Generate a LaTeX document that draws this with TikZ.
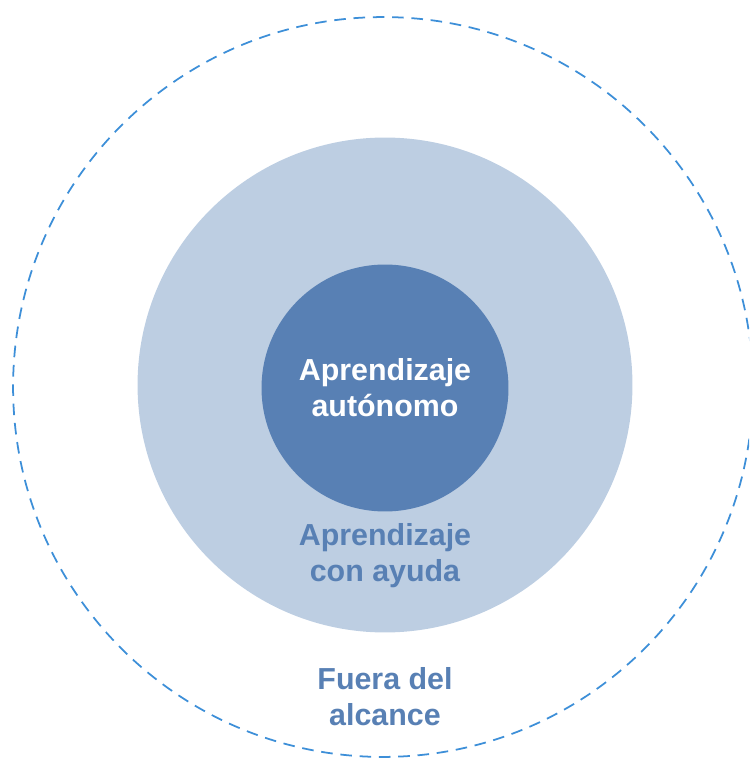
\documentclass[tikz,border=0pt]{standalone}
\usepackage{fontspec}
\setmainfont{Liberation Sans}
\usetikzlibrary{positioning}
\definecolor{zonedark}{HTML}{5880B4}
\definecolor{zonelight}{HTML}{BDCEE2}
\definecolor{zoneline}{HTML}{3D8FD8}
\tikzset{
    zone/.style={
        circle, inner sep=0pt, draw=none
    },
    outerzone/.style={
        zone, draw=zoneline, line width=1pt,
        dash pattern=on 6.6pt off 4.4pt, fill=none
    },
    zone label/.style={
        font=\fontsize{17.3}{20.6}\selectfont\bfseries,
        align=center, inner sep=0pt
    }
}
\begin{document}
\begin{tikzpicture}[x=0.02cm, y=-0.02cm]
    \useasboundingbox (0,0) rectangle (749,759);
    \clip (0,0) rectangle (749,759);

    % Zones
    \node[outerzone, minimum size=14.8cm] (fuera) at (383,387) {};
    \node[zone, fill=zonelight, minimum size=9.9cm] (ayuda) at (385,385) {};
    \node[zone, fill=zonedark, minimum size=4.94cm] (auto) at (385,388) {};

    % Labels
    \node[zone label, text=white] (autolbl) at (auto) {Aprendizaje\\autónomo};
    \node[zone label, text=zonedark] (ayudalbl) at (385,556) {Aprendizaje\\con ayuda};
    \node[zone label, text=zonedark] (fueralbl) at (385,697) {Fuera del\\alcance};

\end{tikzpicture}
\end{document}
